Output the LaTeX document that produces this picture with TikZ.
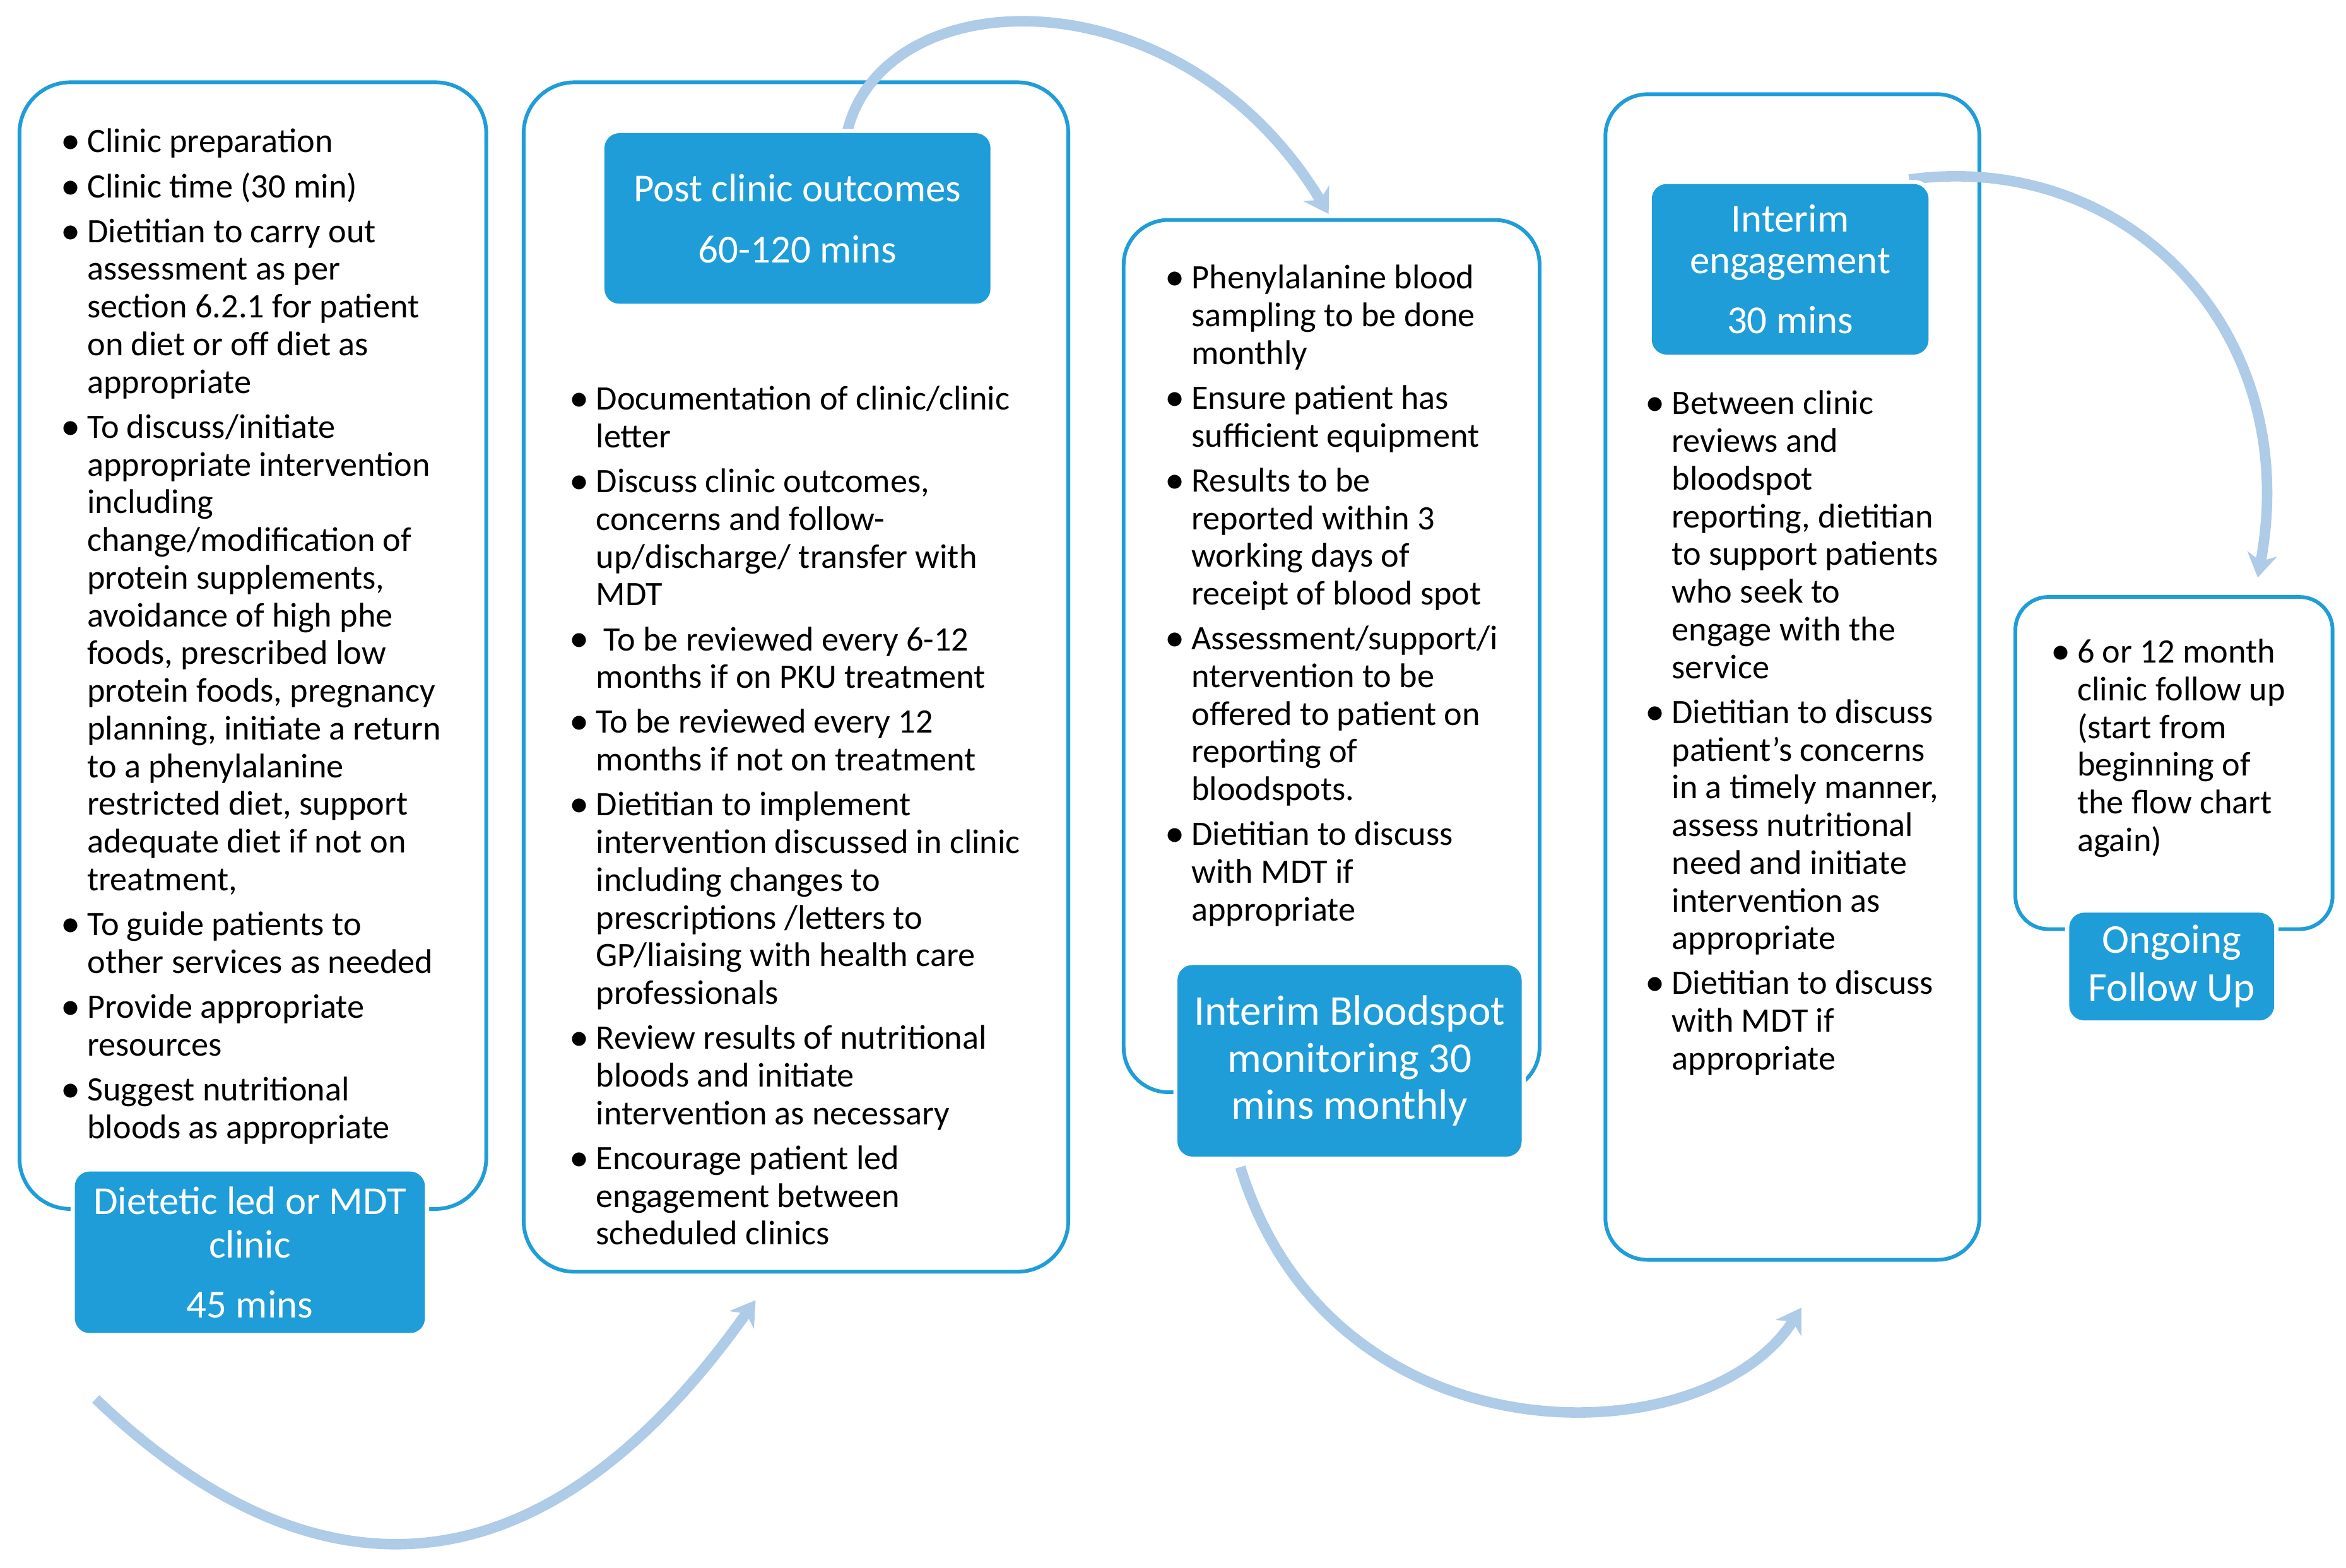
\documentclass[tikz,border=0pt]{standalone}
\usepackage{fontspec}
\usepackage{graphicx}
\setmainfont{Carlito}
\usetikzlibrary{arrows.meta,positioning}
\definecolor{boxblue}{RGB}{31,157,216}
\definecolor{arrowblue}{RGB}{174,203,232}
\newcommand{\bul}{\makebox[7pt][l]{\hspace*{-1.8pt}\raisebox{-0.4pt}{\scalebox{1.15}{\textbullet}}}}
\newcommand{\ind}{\hspace*{7pt}}

\begin{document}
\begin{tikzpicture}[x=0.5pt,y=-0.5pt,
panelbox/.style={draw=boxblue,line width=1.25pt,rounded corners=#1,inner sep=0pt},
panelbox/.default=17pt,
headbox/.style={fill=boxblue,rounded corners=5pt,text=white,align=center,inner sep=0pt,preaction={draw=white,line width=2.8pt}},
bodytext/.style={anchor=north west,inner sep=0pt,align=left,font=\fontsize{11.45}{12.6}\selectfont},
flowarrow/.style={draw=arrowblue,line width=3.5pt,-{Stealth[length=8pt,width=10pt,inset=2.5pt]}}]
\useasboundingbox (0,0) rectangle (1568,1048);

\node[panelbox,minimum width=156pt,minimum height=376.5pt] (p1) at (169,431.5) {};
\node[panelbox,minimum width=182pt,minimum height=397.5pt] (p2) at (532,452.5) {};
\node[panelbox=15pt,minimum width=139pt,minimum height=291.5pt] (p3) at (890,438.5) {};
\node[panelbox=14pt,minimum width=125pt,minimum height=389.5pt] (p4) at (1198,452.5) {};
\node[panelbox=11pt,minimum width=106pt,minimum height=111pt] (p5) at (1453,510) {};

\coordinate (a1s) at (64,935);
\coordinate (a1e) at (505,869);
\coordinate (a2s) at (566,89);
\coordinate (a2e) at (888,143);
\coordinate (a3s) at (829,780);
\coordinate (a3e) at (1204,874);
\coordinate (a4s) at (1276,120);
\coordinate (a4e) at (1509,386);
\draw[flowarrow] (a1s) .. controls (186,1052) and (344,1096) .. (a1e);
\draw[flowarrow] (a2s) .. controls (590,-15) and (790,-20) .. (a2e);
\draw[flowarrow] (a3s) .. controls (890,980) and (1140,975) .. (a3e);
\draw[flowarrow] (a4s) .. controls (1420,100) and (1540,220) .. (a4e);

\node[headbox,minimum width=117pt,minimum height=54pt,font=\fontsize{13.25}{14.5}\selectfont] (h1) at (167,837) {Dietetic led or MDT\\clinic\\[5.5pt]45 mins};
\node[headbox,minimum width=129pt,minimum height=57pt,font=\fontsize{13.25}{14.5}\selectfont] (h2) at (533,146) {Post clinic outcomes\\[6pt]60-120 mins};
\node[headbox,minimum width=115pt,minimum height=64pt,font=\fontsize{14.2}{15.75}\selectfont] (h3) at (902,709) {Interim Bloodspot\\monitoring 30\\mins monthly};
\node[headbox,minimum width=92.5pt,minimum height=57pt,font=\fontsize{13.25}{14}\selectfont] (h4) at (1196.5,180) {Interim\\engagement\\[6pt]30 mins};
\node[headbox,minimum width=68.5pt,minimum height=36pt,font=\fontsize{13.7}{16}\selectfont] (h5) at (1451.5,646) {Ongoing\\Follow Up};

\node[bodytext] (t1) at (44,84) {\strut\bul Clinic preparation\\[2.4pt]
\bul Clinic time (30 min)\\[2.4pt]
\bul Dietitian to carry out\\ \ind assessment as per\\ \ind section 6.2.1 for patient\\ \ind on diet or off diet as\\ \ind appropriate\\[2.4pt]
\bul To discuss/initiate\\ \ind appropriate intervention\\ \ind including\\ \ind change/modification of\\ \ind protein supplements,\\ \ind avoidance of high phe\\ \ind foods, prescribed low\\ \ind protein foods, pregnancy\\ \ind planning, initiate a return\\ \ind to a phenylalanine\\ \ind restricted diet, support\\ \ind adequate diet if not on\\ \ind treatment,\\[2.4pt]
\bul To guide patients to\\ \ind other services as needed\\[2.4pt]
\bul Provide appropriate\\ \ind resources\\[2.4pt]
\bul Suggest nutritional\\ \ind bloods as appropriate};

\node[bodytext] (t2) at (384,256) {\strut\bul Documentation of clinic/clinic\\ \ind letter\\[2.4pt]
\bul Discuss clinic outcomes,\\ \ind concerns and follow-\\ \ind up/discharge/ transfer with\\ \ind MDT\\[2.4pt]
\bul\ To be reviewed every 6-12\\ \ind months if on PKU treatment\\[2.4pt]
\bul To be reviewed every 12\\ \ind months if not on treatment\\[2.4pt]
\bul Dietitian to implement\\ \ind intervention discussed in clinic\\ \ind including changes to\\ \ind prescriptions /letters to\\ \ind GP/liaising with health care\\ \ind professionals\\[2.4pt]
\bul Review results of nutritional\\ \ind bloods and initiate\\ \ind intervention as necessary\\[2.4pt]
\bul Encourage patient led\\ \ind engagement between\\ \ind scheduled clinics};

\node[bodytext] (t3) at (782,175) {\strut\bul Phenylalanine blood\\ \ind sampling to be done\\ \ind monthly\\[2.4pt]
\bul Ensure patient has\\ \ind sufficient equipment\\[2.4pt]
\bul Results to be\\ \ind reported within 3\\ \ind working days of\\ \ind receipt of blood spot\\[2.4pt]
\bul Assessment/support/i\\ \ind ntervention to be\\ \ind offered to patient on\\ \ind reporting of\\ \ind bloodspots.\\[2.4pt]
\bul Dietitian to discuss\\ \ind with MDT if\\ \ind appropriate};

\node[bodytext] (t4) at (1103,259) {\strut\bul Between clinic\\ \ind reviews and\\ \ind bloodspot\\ \ind reporting, dietitian\\ \ind to support patients\\ \ind who seek to\\ \ind engage with the\\ \ind service\\[2.4pt]
\bul Dietitian to discuss\\ \ind patient’s concerns\\ \ind in a timely manner,\\ \ind assess nutritional\\ \ind need and initiate\\ \ind intervention as\\ \ind appropriate\\[2.4pt]
\bul Dietitian to discuss\\ \ind with MDT if\\ \ind appropriate};

\node[bodytext] (t5) at (1374,425) {\strut\bul 6 or 12 month\\ \ind clinic follow up\\ \ind (start from\\ \ind beginning of\\ \ind the flow chart\\ \ind again)};
\end{tikzpicture}
\end{document}
